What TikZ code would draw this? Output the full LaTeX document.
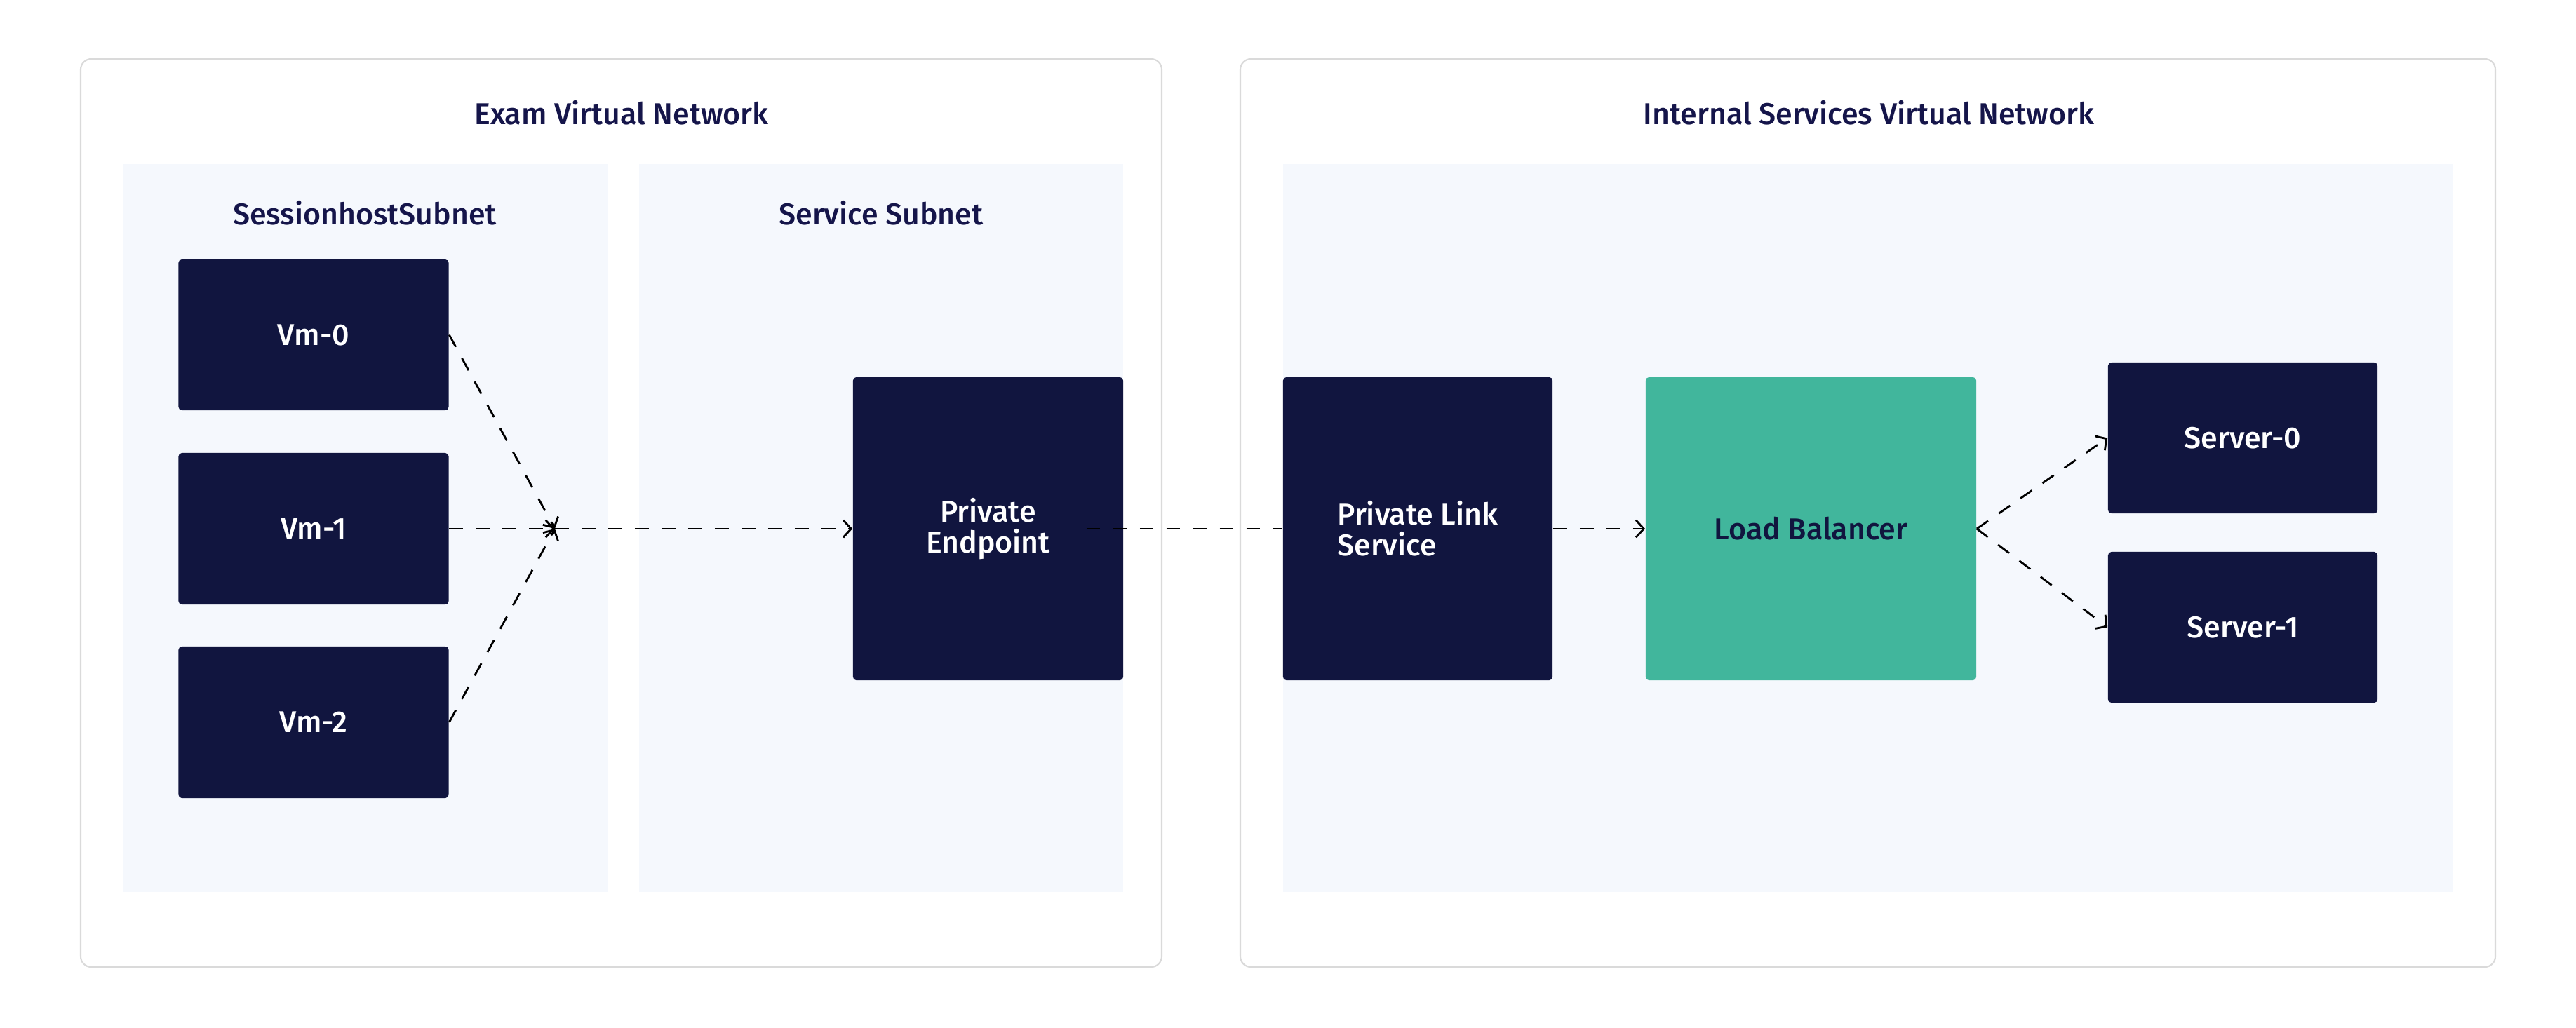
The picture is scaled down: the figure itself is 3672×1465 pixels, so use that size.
\documentclass[tikz,border=0pt]{standalone}
\usepackage{fontspec}
\setmainfont{Open Sans}
\newfontfamily\medfont{Fira Sans}[UprightFont=*-Medium]
\usetikzlibrary{arrows.meta}
\definecolor{navy}{HTML}{11153F}
\definecolor{lbgreen}{HTML}{41B69C}
\definecolor{subnetbg}{HTML}{F5F8FD}
\definecolor{outline}{HTML}{DADADA}
\definecolor{titlecol}{HTML}{15154A}
\begin{document}
\begin{tikzpicture}[x=0.01cm,y=-0.01cm,
  vnet/.style={draw=outline, line width=0.6pt, rounded corners=4.3pt, fill=white},
  subnet/.style={fill=subnetbg},
  lbl/.style={font=\medfont\fontsize{12.2}{12.4}\selectfont},
  box/.style={lbl, fill=navy, rounded corners=1.4pt, text=white, inner sep=0pt, align=center},
  lbbox/.style={box, fill=lbgreen, text=navy},
  title/.style={lbl, text=titlecol, anchor=base, inner sep=0pt},
  flow/.style={dash pattern=on 5.6pt off 5.2pt, line width=0.8pt, -{Straight Barb[length=3.2pt,width=7pt]}},
  link/.style={dash pattern=on 5.6pt off 5.2pt, line width=0.8pt}
]
\useasboundingbox[fill=white] (0,0) rectangle (3672,1465);
% virtual networks
\draw[vnet] (115,84) rectangle (1656,1379);
\draw[vnet] (1768,84) rectangle (3557,1379);
% subnets
\fill[subnet] (175,234) rectangle (866,1272);
\fill[subnet] (911,234) rectangle (1601,1272);
\fill[subnet] (1829,234) rectangle (3496,1272);
% titles
\node[title] (t1) at (886,177) {Exam Virtual Network};
\node[title] (t2) at (2664,177) {Internal Services Virtual Network};
\node[title] (s1) at (520,320) {SessionhostSubnet};
\node[title] (s2) at (1256,320) {Service Subnet};
% boxes
\node[box, minimum width=3.85cm, minimum height=2.15cm] (vm0) at (447,477.5) {Vm-0};
\node[box, minimum width=3.85cm, minimum height=2.16cm] (vm1) at (447,754) {Vm-1};
\node[box, minimum width=3.85cm, minimum height=2.16cm] (vm2) at (447,1030) {Vm-2};
\node[box, minimum width=3.85cm, minimum height=4.32cm] (pe) at (1408.5,754) {Private\\Endpoint};
\node[box, minimum width=3.84cm, minimum height=4.32cm, align=left] (pls) at (2021,754) {Private Link\\Service};
\node[lbbox, minimum width=4.71cm, minimum height=4.32cm] (lb) at (2581.5,754) {Load Balancer};
\node[box, minimum width=3.84cm, minimum height=2.15cm] (srv0) at (3197,624.5) {Server-0};
\node[box, minimum width=3.84cm, minimum height=2.15cm] (srv1) at (3197,894.5) {Server-1};
% connectors
\coordinate (j) at (791,754);
\draw[flow] (vm0.east) -- (j);
\draw[flow] (vm2.east) -- (j);
\draw[flow] (vm1.east) -- (j);
\draw[flow] (j) -- (pe.west);
\draw[link] ([xshift=-0.53cm]pe.east) -- (pls.west);
\draw[flow] (pls.east) -- (lb.west);
\draw[flow] (lb.east) -- (srv0.west);
\draw[flow] (lb.east) -- (srv1.west);
\end{tikzpicture}
\end{document}
